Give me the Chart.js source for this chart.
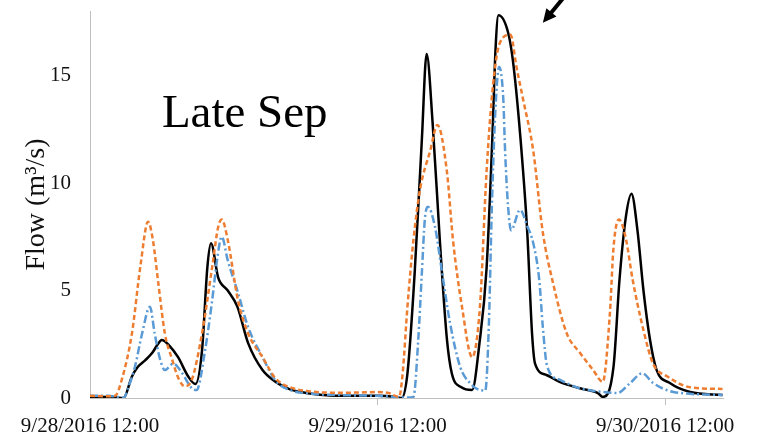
<!DOCTYPE html>
<html>
<head>
<meta charset="utf-8">
<title>Late Sep flow</title>
<script src="https://cdn.jsdelivr.net/npm/chart.js@4/dist/chart.umd.min.js"></script>
<style>
  html, body { margin: 0; padding: 0; background: #fff; }
  #wrap { width: 759px; height: 438px; position: relative; }
</style>
</head>
<body>
<div id="wrap"><canvas id="flowChart"></canvas></div>
<script>
// x values are hours after 9/28/2016 12:00, flow in m3/s

// black solid series
const blackHours = [0, 1.5, 2.2, 2.8, 3.5, 4.0, 4.6, 5.2, 5.6, 6.0, 6.6, 7.35, 8.2, 8.8, 9.35, 9.8, 10.1, 10.7, 11.5, 12.3, 13.2, 14.4, 15.5, 16.7, 18.5, 20, 22, 24, 25.5, 26.0, 26.5, 27.1, 27.7, 28.1, 28.6, 29.2, 29.8, 30.2, 31.0, 31.9, 32.5, 33.1, 33.6, 33.85, 34.1, 34.9, 35.3, 35.9, 36.5, 36.9, 37.15, 38.1, 39.2, 40.9, 42.4, 42.8, 43.7, 44.2, 44.7, 45.2, 45.7, 46.2, 46.75, 47.3, 48.4, 50.1, 52.8];
const blackFlow  = [0.06, 0.05, 0.02, 0.0, 1.0, 1.45, 1.75, 2.1, 2.45, 2.7, 2.45, 1.9, 1.0, 0.65, 2.2, 6.1, 7.2, 5.6, 5.0, 4.25, 2.55, 1.3, 0.75, 0.4, 0.2, 0.12, 0.1, 0.1, 0.05, 0.0, 1.15, 5.8, 12.0, 16.0, 12.8, 7.35, 2.7, 1.15, 0.5, 0.37, 2.5, 6.0, 12.3, 16.2, 17.8, 17.0, 15.7, 12.3, 7.7, 3.0, 1.6, 1.07, 0.75, 0.45, 0.23, 0.05, 1.45, 5.5, 8.3, 9.5, 7.8, 5.0, 2.7, 1.3, 0.7, 0.28, 0.14];

// orange dashed series
const orangeHours = [0, 1.5, 2.1, 2.65, 3.5, 4.2, 4.85, 5.25, 5.7, 6.25, 6.85, 7.4, 7.9, 8.5, 9.35, 10.2, 10.7, 11.0, 11.5, 12.35, 13.2, 14.4, 15.5, 16.7, 18.5, 20, 22, 24, 25.0, 25.8, 26.1, 26.5, 27.0, 27.55, 28.4, 29.0, 29.8, 30.3, 31.05, 31.9, 32.55, 33.1, 33.65, 34.2, 35.1, 35.6, 36.15, 37.0, 37.8, 38.65, 39.8, 40.9, 42.0, 42.8, 43.4, 43.7, 44.15, 44.7, 45.3, 46.2, 47.0, 48.2, 50.1, 52.8];
const orangeFlow  = [0.1, 0.08, 0.1, 0.85, 3.0, 6.1, 8.2, 7.35, 5.35, 3.0, 1.8, 0.9, 0.55, 0.85, 3.0, 6.1, 7.95, 8.3, 7.35, 4.55, 3.0, 1.9, 0.9, 0.5, 0.3, 0.25, 0.25, 0.28, 0.22, 0.05, 1.15, 4.25, 7.35, 9.7, 11.5, 12.7, 10.5, 7.35, 4.25, 1.9, 4.25, 10.5, 14.6, 16.5, 16.9, 15.4, 13.9, 11.5, 7.7, 5.35, 3.0, 2.1, 1.3, 0.75, 3.95, 7.0, 8.3, 7.5, 5.5, 3.15, 1.6, 1.0, 0.5, 0.42];

// blue dash-dot series
const blueHours = [0, 1.5, 2.3, 2.8, 3.2, 3.75, 4.35, 5.0, 5.4, 5.85, 6.25, 6.95, 7.7, 8.5, 8.9, 9.6, 10.2, 10.6, 11.0, 11.5, 12.35, 13.2, 14.4, 15.5, 16.7, 18.5, 20, 22, 24, 26.5, 27.0, 27.4, 27.7, 27.95, 28.2, 28.8, 29.4, 30.05, 30.9, 31.7, 32.55, 33.0, 33.3, 33.55, 33.85, 34.15, 34.5, 34.65, 34.9, 35.15, 35.9, 36.5, 37.0, 37.5, 37.8, 38.15, 39.2, 40.9, 42.8, 44.0, 45.1, 46.1, 47.0, 48.7, 52.8];
const blueFlow  = [0.1, 0.1, 0.05, 0.0, 0.5, 1.45, 3.0, 4.25, 3.0, 1.8, 1.3, 1.6, 1.15, 0.45, 0.37, 2.2, 4.55, 6.4, 7.5, 6.4, 4.9, 3.3, 1.9, 0.8, 0.37, 0.2, 0.15, 0.12, 0.1, 0.02, 0.05, 2.7, 5.8, 8.3, 8.9, 7.95, 5.8, 3.5, 1.45, 0.7, 0.37, 0.35, 3.5, 9.0, 13.5, 15.4, 13.9, 11.5, 8.9, 7.8, 8.75, 8.0, 7.2, 5.5, 3.3, 1.5, 0.85, 0.45, 0.28, 0.23, 0.7, 1.15, 0.7, 0.28, 0.14];

// axis ticks
const tickHours = [0, 24, 48];
const tickLabels = ['9/28/2016 12:00', '9/29/2016 12:00', '9/30/2016 12:00'];
const yTicks = [0, 5, 10, 15];

const toPoints = (xs, ys) => xs.map((h, i) => ({ x: h, y: ys[i] }));
const serif = '"Liberation Serif", "Times New Roman", serif';

// "Late Sep" label and the arrow at the top
const notes = {
    id: 'notes',
    afterDraw(chart) {
        const { ctx, scales: { x, y } } = chart;
        ctx.save();
        ctx.fillStyle = '#000';
        ctx.font = '47px ' + serif;
        ctx.textBaseline = 'alphabetic';
        ctx.fillText('Late Sep', x.getPixelForValue(6.0), y.getPixelForValue(12.6));

        const x0 = x.getPixelForValue(39.5), y0 = y.getPixelForValue(18.6);
        const x1 = x.getPixelForValue(37.8), y1 = y.getPixelForValue(17.45);
        const ang = Math.atan2(y1 - y0, x1 - x0);
        const head = 15;
        ctx.strokeStyle = '#000';
        ctx.lineWidth = 4;
        ctx.beginPath();
        ctx.moveTo(x0, y0);
        ctx.lineTo(x1 - head * 0.7 * Math.cos(ang), y1 - head * 0.7 * Math.sin(ang));
        ctx.stroke();
        ctx.beginPath();
        ctx.moveTo(x1, y1);
        ctx.lineTo(x1 - head * Math.cos(ang - 0.45), y1 - head * Math.sin(ang - 0.45));
        ctx.lineTo(x1 - head * Math.cos(ang + 0.45), y1 - head * Math.sin(ang + 0.45));
        ctx.closePath();
        ctx.fill();
        ctx.restore();
    }
};

const lineStyle = {
    fill: false,
    pointRadius: 0,
    cubicInterpolationMode: 'monotone',
    borderWidth: 2.5
};

new Chart(document.getElementById('flowChart'), {
    type: 'line',
    data: {
        datasets: [
            { ...lineStyle, label: 'Orange', data: toPoints(orangeHours, orangeFlow), borderColor: '#ED7D31', borderDash: [5, 3] },
            { ...lineStyle, label: 'Blue', data: toPoints(blueHours, blueFlow), borderColor: '#5B9BD5', borderDash: [8, 3, 2, 3] },
            { ...lineStyle, label: 'Black', data: toPoints(blackHours, blackFlow), borderColor: '#000000' }
        ]
    },
    options: {
        responsive: true,
        maintainAspectRatio: false,
        animation: false,
        layout: { padding: { top: 11, right: 36, left: 0, bottom: 0 } },
        plugins: { legend: { display: false }, tooltip: { enabled: false } },
        scales: {
            x: {
                type: 'linear',
                min: 0,
                max: 52.84,
                afterBuildTicks: s => { s.ticks = tickHours.map(v => ({ value: v })); },
                afterFit: s => { s.height = 40; },
                grid: {
                    drawOnChartArea: false,
                    drawTicks: true,
                    tickLength: 7,
                    color: c => (c.tick && c.tick.value === 0 ? 'rgba(0,0,0,0)' : '#bfbfbf')
                },
                border: { color: '#bfbfbf' },
                ticks: {
                    color: '#111',
                    font: { family: serif, size: 21 },
                    padding: 9,
                    maxRotation: 0,
                    autoSkip: false,
                    callback: v => tickLabels[tickHours.indexOf(v)]
                }
            },
            y: {
                min: 0,
                max: 18,
                afterBuildTicks: s => { s.ticks = yTicks.map(v => ({ value: v })); },
                afterFit: s => {
                    s.width = 90;
                    s.paddingTop = 0;
                    s.paddingBottom = 0;
                },
                grid: { drawOnChartArea: false, drawTicks: false },
                border: { color: '#bfbfbf' },
                ticks: {
                    color: '#111',
                    font: { family: serif, size: 21 },
                    padding: 19
                },
                title: {
                    display: true,
                    text: 'Flow (m³/s)',
                    color: '#111',
                    font: { family: serif, size: 28 },
                    padding: { top: 20, bottom: 0 }
                }
            }
        }
    },
    plugins: [notes]
});
</script>
</body>
</html>
